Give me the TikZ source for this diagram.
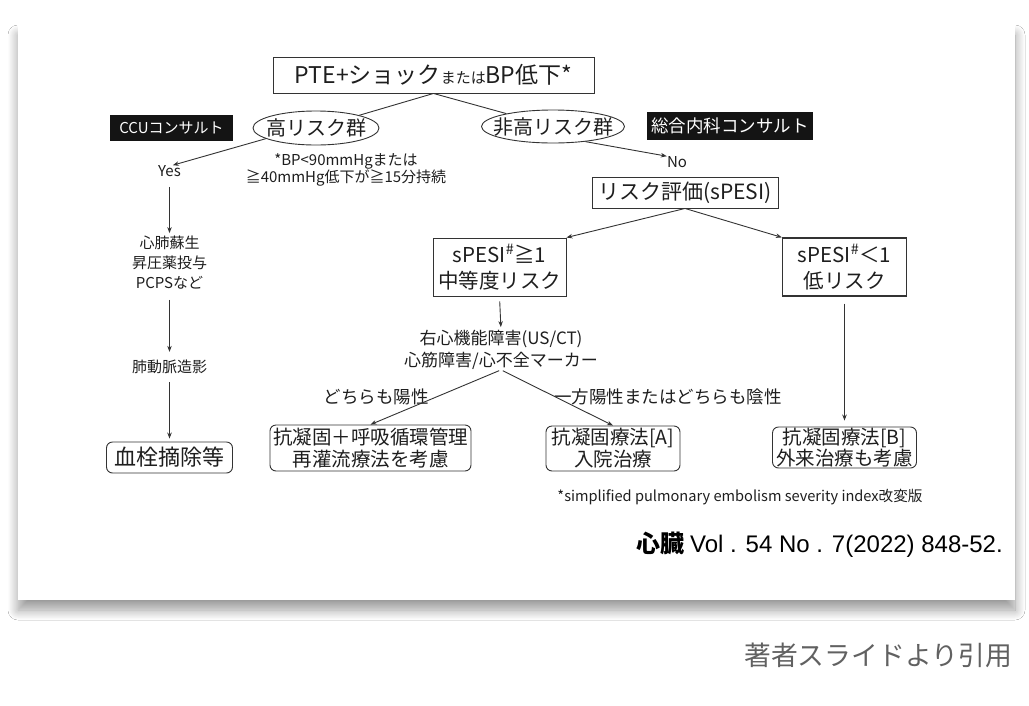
\documentclass[tikz,border=0pt]{standalone}
\usepackage{fontspec}
\setmainfont{Noto Sans CJK JP}
\newfontfamily\arialf{Liberation Sans}
\newfontfamily\jpf{Noto Sans CJK JP}
\usetikzlibrary{shapes.geometric,arrows.meta,shadows.blur}
\definecolor{ln}{HTML}{333333}
\definecolor{tx}{HTML}{1E1E1E}
\begin{document}
\begin{tikzpicture}[x=1pt,y=-1pt,
  arr/.style={draw=ln, line width=0.9pt, -{Stealth[length=6pt,width=4.5pt]}},
  seg/.style={draw=ln, line width=0.9pt},
  sqbox/.style={draw=ln, line width=0.9pt, align=center, inner sep=0pt, text=tx},
  rbox/.style={draw=ln, line width=0.9pt, rounded corners=6pt, align=center, inner sep=0pt, text=tx},
  ell/.style={ellipse, draw=ln, line width=0.9pt, inner sep=0pt, text=tx},
  blk/.style={fill=black!92, text=white, inner sep=0pt},
  lbl/.style={text=tx, align=center, inner sep=0pt},
]
\useasboundingbox (0,0) rectangle (1029,705);
\fill[white] (0,0) rectangle (1029,705);
\path[fill=white, blur shadow={shadow xshift=0pt, shadow yshift=-10pt, shadow blur radius=10pt, shadow blur steps=14, shadow opacity=40}] (18,25) rectangle (1015,600);

% top
\node[sqbox, minimum width=321pt, minimum height=36pt] (top) at (433.5,75)
  {\fontsize{23}{26}\selectfont PTE+ショック{\fontsize{15}{18}\selectfont または}BP低下*};
\node[ell, minimum width=126pt, minimum height=34pt] (hr) at (316,128)
  {\makebox[0pt]{\fontsize{20}{24}\selectfont 高リスク群}};
\node[ell, minimum width=143pt, minimum height=33pt] (nhr) at (553,126.5)
  {\makebox[0pt]{\fontsize{20}{24}\selectfont 非高リスク群}};
\node[blk, minimum width=123pt, minimum height=26pt, font=\fontsize{15}{18}\selectfont] (ccu) at (171.5,128) {CCUコンサルト};
\node[blk, minimum width=166pt, minimum height=28pt, font=\fontsize{17.5}{20}\selectfont] (gim) at (730,126) {総合内科コンサルト};
\node[lbl, font=\fontsize{15}{17}\selectfont] (note) at (346,169.5) {*BP<90mmHgまたは\\≧40mmHg低下が≧15分持続};
\node[lbl, font=\fontsize{15}{18}\selectfont] (yes) at (169.5,171) {Yes};
\node[lbl, font=\fontsize{15}{18}\selectfont] (no) at (677,162) {No};

% left column
\node[lbl, font=\fontsize{15}{20}\selectfont] (cpr) at (169.5,263) {心肺蘇生\\昇圧薬投与\\PCPSなど};
\node[lbl, font=\fontsize{15}{18}\selectfont] (pa) at (169.5,367) {肺動脈造影};
\node[rbox, minimum width=126pt, minimum height=31pt, font=\fontsize{22}{24}\selectfont] (thr) at (169.5,457.5) {血栓摘除等};

% right part
\node[sqbox, minimum width=186pt, minimum height=31pt, font=\fontsize{21}{24}\selectfont] (risk) at (685,192.5) {リスク評価(sPESI)};
\node[sqbox, minimum width=133pt, minimum height=58pt, font=\fontsize{20.5}{26}\selectfont] (mid) at (499.5,267) {sPESI\textsuperscript{\#}≧1\\中等度リスク};
\node[sqbox, line width=1.2pt, minimum width=124pt, minimum height=58pt, font=\fontsize{20.5}{26}\selectfont] (low) at (844.5,267) {sPESI\textsuperscript{\#}＜1\\低リスク};
\node[lbl, font=\fontsize{17}{22}\selectfont] (rv) at (501,350) {右心機能障害(US/CT)\\心筋障害/心不全マーカー};
\node[lbl, font=\fontsize{17.5}{20}\selectfont] (pos) at (376,397) {どちらも陽性};
\node[lbl, font=\fontsize{17.5}{20}\selectfont] (neg) at (668,397) {一方陽性またはどちらも陰性};
\node[rbox, minimum width=201pt, minimum height=46pt, font=\fontsize{19.5}{22}\selectfont] (b1) at (370.5,448) {抗凝固＋呼吸循環管理\\再灌流療法を考慮};
\node[rbox, minimum width=134pt, minimum height=45pt, font=\fontsize{19.5}{22}\selectfont] (ba) at (613,448.5) {抗凝固療法[A]\\入院治療};
\node[rbox, minimum width=144pt, minimum height=41pt, font=\fontsize{19.5}{20.5}\selectfont] (bb) at (844.5,447.5) {抗凝固療法[B]\\外来治療も考慮};
\node[lbl, font=\fontsize{14.6}{18}\selectfont] (foot) at (740,497) {*simplified pulmonary embolism severity index改変版};
\node[anchor=east, inner sep=0pt, text=black, font=\fontsize{24}{27}\selectfont] (cite) at (1003,545) {{\jpf\bfseries 心臓} \arialf Vol . 54 No . 7(2022) 848-52.};
\node[anchor=east, inner sep=0pt, text=black!62, font=\fontsize{26.8}{30}\selectfont] (cap) at (1012,655) {著者スライドより引用};

% connectors
\draw[seg] (top.south) -- (hr);
\draw[seg] (top.south) -- (nhr);
\draw[arr] (hr.192) -- (yes.60);
\draw[arr] (nhr.-25) -- (no.north west);
\draw[arr, shorten <=10pt, shorten >=3pt] (yes.south) -- (cpr.north);
\draw[arr, shorten <=10pt, shorten >=8pt] (cpr.south) -- (pa.north);
\draw[arr, shorten <=8pt, shorten >=3pt] (pa.south) -- (thr.north);
\draw[arr] (risk.south) -- (mid.north east);
\draw[arr] (risk.south) -- (low.north west);
\draw[arr, shorten <=5pt, shorten >=3pt] (mid.south) -- (rv.north);
\draw[arr, shorten <=2pt] (rv.south) -- (b1.north);
\draw[arr, shorten <=2pt] (rv.south) -- (ba.north);
\draw[arr, shorten <=7pt, shorten >=6pt] (low.south) -- (bb.north);
\end{tikzpicture}
\end{document}
